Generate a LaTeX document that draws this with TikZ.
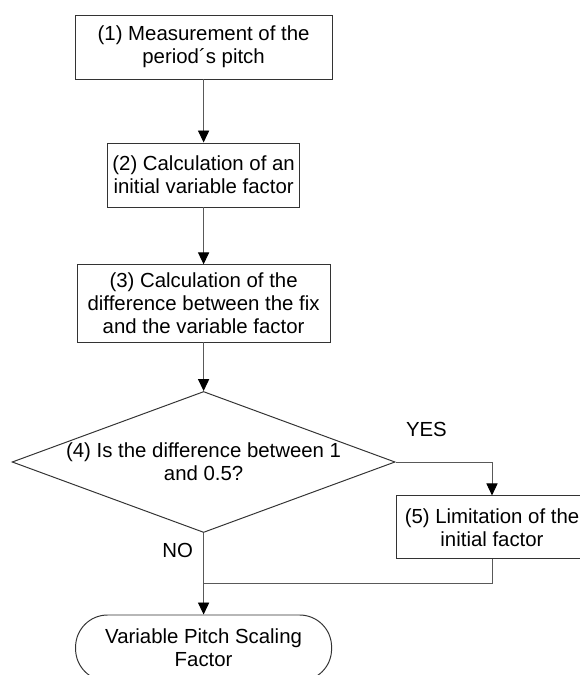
\documentclass[tikz,border=0pt]{standalone}
\usepackage{fontspec}
\setmainfont{Liberation Sans}
\usetikzlibrary{arrows.meta, shapes.geometric}

\begin{document}
\begin{tikzpicture}[>={Triangle[width=0.28cm, length=0.3cm, black]},
  font=\fontsize{14.5}{16.4}\selectfont, line width=0.7pt,
  stepbox/.style={draw=black!80, align=center, minimum height=1.6cm, inner sep=2pt},
  flow/.style={->, draw=black!65}]
  \useasboundingbox (0,0) rectangle (14.5,16.875);
  \node[stepbox, minimum width=6.425cm] (meas) at (5.09,15.7) {(1) Measurement of the\\period´s pitch};
  \node[stepbox, minimum width=4.8cm] (init) at (5.09,12.5) {(2) Calculation of an\\initial variable factor};
  \node[stepbox, minimum width=6.33cm, minimum height=1.93cm] (delta) at (5.09,9.29) {(3) Calculation of the\\difference between the fix\\and the variable factor};
  \node[diamond, draw=black!80, inner sep=0pt, minimum width=9.575cm, minimum height=3.525cm,
    label={[align=center]center:{(4) Is the difference between 1\\and 0.5?}}] (check) at (5.09,5.325) {};
  \node[stepbox, minimum width=4.8cm, minimum height=1.575cm] (limit) at (12.3,3.69) {(5) Limitation of the\\initial factor};
  \node[draw=black!80, rounded corners=0.8cm, align=center, minimum width=6.4cm, minimum height=1.65cm] (result) at (5.09,0.675) {Variable Pitch Scaling\\Factor};
  \coordinate (merge) at (5.09,2.3);
  \draw[flow] (meas) -- (init);
  \draw[flow] (init) -- (delta);
  \draw[flow] (delta) -- (check);
  \draw[flow] (check.east) -| node[pos=0.16, yshift=0.825cm]{YES} (limit.north);
  \draw[flow] (check.south) -- node[pos=0.21, xshift=-0.65cm]{NO} (result.north);
  \draw[draw=black!65] (limit.south) |- (merge);
\end{tikzpicture}
\end{document}
